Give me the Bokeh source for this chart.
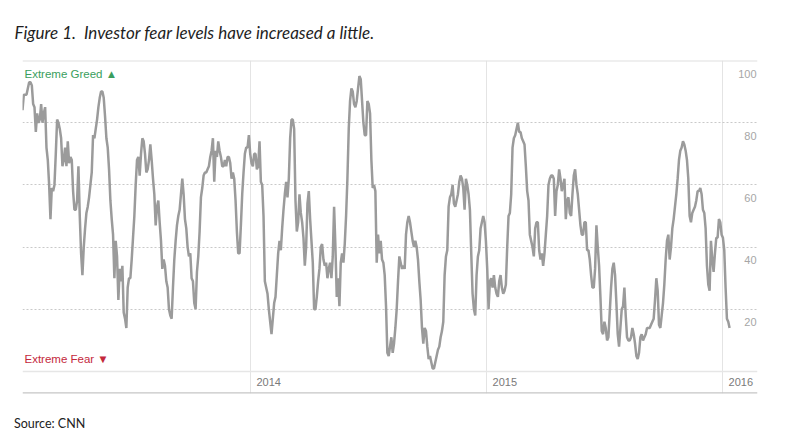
import pandas as pd
from bokeh.plotting import figure
from bokeh.layouts import column
from bokeh.models import Range1d, Span, FixedTicker, Div
from bokeh.core.properties import value
from bokeh.embed import file_html
from bokeh.resources import INLINE

# CNN Fear & Greed index (evenly spaced samples, Jan 2013 - Jan 2016)
fear_greed = [
    84, 89, 89, 89, 91, 93, 93, 92, 86, 85,
    77, 83, 80, 81, 86, 80, 83, 85, 72, 68,
    60, 49, 59, 58, 60, 70, 81, 80, 78, 75,
    66, 68, 72, 66, 74, 67, 69, 68, 58, 52,
    52, 55, 66, 50, 38, 31, 40, 46, 51, 53,
    56, 60, 64, 76, 75, 78, 81, 85, 88, 90,
    90, 88, 82, 75, 72, 65, 55, 49, 44, 30,
    42, 37, 23, 33, 29, 34, 19, 17, 14, 27,
    30, 30, 36, 43, 50, 60, 68, 69, 63, 70,
    75, 74, 70, 64, 65, 68, 73, 68, 62, 57,
    47, 53, 55, 48, 42, 33, 36, 34, 29, 27,
    20, 18, 17, 27, 36, 42, 47, 50, 52, 57,
    62, 57, 49, 46, 40, 37, 38, 30, 29, 22,
    20, 32, 37, 45, 56, 59, 63, 64, 64, 65,
    66, 69, 71, 75, 61, 71, 69, 74, 71, 69,
    66, 66, 68, 66, 69, 69, 67, 62, 64, 62,
    55, 45, 38, 38, 47, 57, 64, 70, 72, 72,
    76, 70, 67, 66, 70, 70, 65, 66, 74, 61,
    60, 50, 29, 27, 25, 20, 16, 12, 17, 22,
    24, 31, 38, 42, 39, 46, 52, 57, 61, 56,
    62, 75, 81, 81, 78, 55, 45, 48, 57, 51,
    48, 43, 34, 40, 54, 58, 49, 42, 35, 20,
    20, 24, 29, 33, 40, 41, 36, 34, 35, 30,
    33, 35, 30, 37, 53, 40, 24, 30, 21, 35,
    38, 35, 41, 50, 62, 78, 87, 91, 90, 86,
    85, 87, 91, 95, 94, 87, 80, 76, 76, 87,
    86, 83, 68,
    59, 60, 58, 35, 44, 38, 42, 36, 35, 31,
    21, 6, 5, 8, 11, 6, 9, 14, 20, 29,
    37, 35, 33, 34, 33, 44, 48, 50, 48, 45,
    42, 40, 42, 40, 36, 29, 23, 14, 9, 14,
    13, 8, 4, 5, 3, 1, 1, 3, 5, 7,
    8, 11, 13, 16, 31, 37, 39, 53, 56, 57,
    60, 54, 53, 55, 57, 61, 63, 62, 59, 52,
    62, 60, 57, 52, 38, 25, 20, 18, 31, 37,
    39, 46, 48, 50, 48, 42, 33, 20, 29, 30,
    27, 31, 27, 25, 24, 29, 31, 27, 25, 26,
    28, 40, 50, 51, 57, 72, 75, 76, 78, 80,
    77, 77, 75, 74, 73, 66, 58, 55, 44, 42,
    40, 37, 46, 48, 48, 39, 36, 38, 34, 38,
    44, 50, 60, 62, 63,
    63, 62, 50, 58, 60, 65, 62, 58, 60, 62,
    49, 55, 56, 51, 50, 57, 63, 65, 60, 57,
    52, 47, 44, 44, 48, 48, 39, 39, 36, 31,
    27, 27, 33, 47, 40, 34, 24, 13, 12, 16,
    14, 10, 11, 19, 27, 33, 35, 31, 22, 12,
    8, 14, 20, 21, 27, 18, 11, 10, 10, 11,
    14, 12, 9, 5, 4, 6, 11, 12, 10, 11,
    12, 14, 14, 14, 15, 16, 17, 23, 30, 26,
    15, 14, 18, 22, 28, 36, 42, 44, 36, 40,
    46, 49, 53, 57, 62, 68, 71, 72, 74, 73,
    71, 68, 62, 50, 48, 51, 52, 53, 55, 58,
    58, 59, 57, 52, 51, 46, 34, 28, 26, 42,
    36, 32, 38, 43, 43, 49, 48, 44, 43, 39,
    27, 17, 16, 14,
]
first_date = "2013-01-13 10:00"
last_date = "2016-01-11 20:00"
view_start = "2013-01-13 10:00"
view_end = "2016-02-24 00:00"

year_ticks = ["2014-01-01", "2015-01-01", "2016-01-01"]
year_labels = ["2014", "2015", "2016"]
level_ticks = [100, 80, 60, 40, 20]
level_labels = ["100", "80", "60", "40", "20"]
dotted_levels = [20, 40, 60, 80]
zone_labels = ["Extreme Greed \u25b2", "Extreme Fear \u25bc"]
zone_levels = [95.8, 3.9]
zone_colors = ["#3a9e5d", "#c4283c"]
y_bottom = -7.07
title_text = "Figure 1.\u00a0 Investor fear levels have increased a little."
source_text = "Source: CNN"

dates = pd.date_range(first_date, last_date, periods=len(fear_greed))
x0 = pd.Timestamp(view_start)
x1 = pd.Timestamp(view_end)
year_dates = pd.to_datetime(year_ticks)
year_ms = [t.value / 1e6 for t in year_dates]

p = figure(width=784, height=397, x_axis_type="datetime",
           x_range=Range1d(x0, x1), y_range=Range1d(y_bottom, 100),
           output_backend="svg", toolbar_location=None,
           min_border_left=22, min_border_right=27,
           min_border_top=60, min_border_bottom=4)
p.outline_line_color = None
p.background_fill_color = "white"
p.border_fill_color = "white"

p.yaxis.visible = False
p.xaxis.visible = False
p.ygrid.ticker = FixedTicker(ticks=dotted_levels)
p.ygrid.grid_line_color = "#c9c9c9"
p.ygrid.grid_line_dash = "2 2"
p.ygrid.grid_line_width = 1

p.xgrid.ticker = FixedTicker(ticks=year_ms)
p.xgrid.grid_line_color = "#e4e4e4"
p.xgrid.grid_line_width = 1

p.add_layout(Span(location=100, dimension="width", line_color="#e0e0e0", line_width=2))
p.add_layout(Span(location=0, dimension="width", line_color="#e6e6e6", line_width=1.5))
p.add_layout(Span(location=y_bottom, dimension="width", line_color="#c6c6c6", line_width=2.5))

p.line(dates, fear_greed, line_color="#9b9b9b", line_width=2.5)

p.text(x=[x1] * len(level_ticks), y=level_ticks, text=level_labels,
       text_align="right", text_baseline="middle", y_offset=13, x_offset=-1,
       text_font=value("Liberation Sans"), text_font_size="11px", text_color="#a6a6a6")

p.text(x=year_dates, y=[-3.5] * len(year_dates), text=year_labels,
       text_align="left", text_baseline="middle", x_offset=6,
       text_font=value("Liberation Sans"), text_font_size="11px", text_color="#7a7a7a")

p.text(x=[x0] * 2, y=zone_levels, text=zone_labels, text_color=zone_colors,
       text_align="left", text_baseline="middle", x_offset=2,
       text_font=value("Liberation Sans"), text_font_size="11.5px")

p.title.text = title_text
p.title.align = "left"
p.title.offset = -8
p.title.text_font = "Lato"
p.title.text_font_style = "italic"
p.title.text_font_size = "17px"
p.title.text_color = "#1e1e1e"
p.title.standoff = 36

source = Div(text=source_text, width=300, height=34, margin=(0, 0, 0, 0),
             styles={"font-family": "Lato", "font-size": "12.5px", "color": "#222222",
                     "padding-left": "14px", "padding-top": "19px",
                     "line-height": "15px"})

layout = column(p, source, spacing=0)

open("out.html", "w").write(file_html(layout, INLINE))
